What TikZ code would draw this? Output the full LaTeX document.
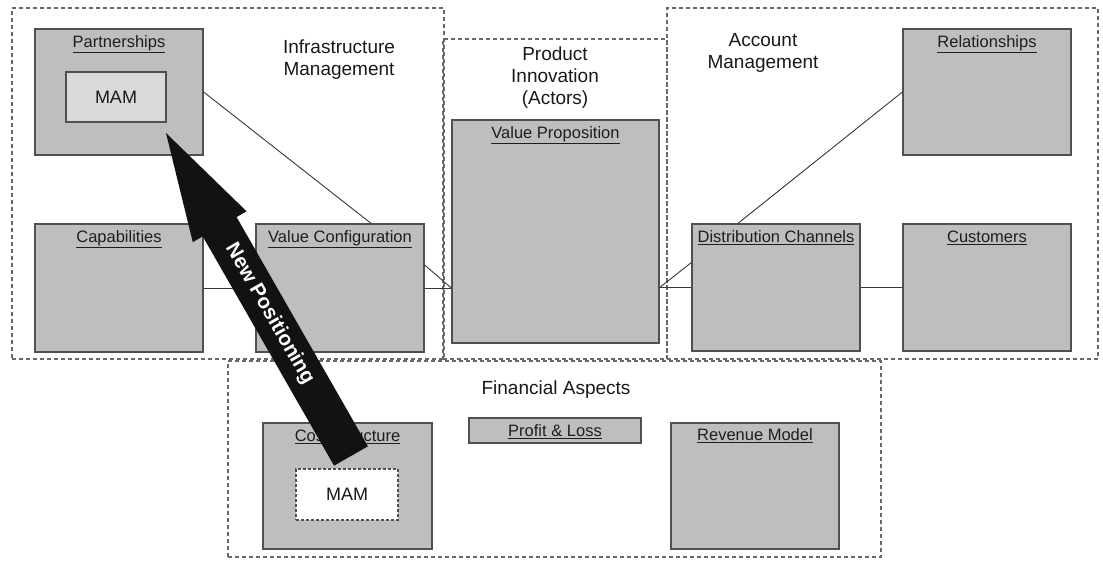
\documentclass[tikz,border=0pt]{standalone}
\usepackage{fontspec}
\setmainfont{Liberation Sans}
\usetikzlibrary{calc,fit}

\definecolor{boxfill}{RGB}{190,190,190}
\definecolor{mamfill}{RGB}{218,218,218}
\definecolor{boxline}{RGB}{80,80,80}
\definecolor{frameline}{RGB}{105,105,105}
\definecolor{linkline}{RGB}{55,55,55}
\definecolor{labeltext}{RGB}{30,30,30}
\definecolor{arrowfill}{RGB}{18,18,18}

\begin{document}
\begin{tikzpicture}[x=1pt,y=-1pt,
  frame/.style={draw=frameline, line width=1.1pt, dash pattern=on 4pt off 3pt,
                inner sep=0pt, rectangle},
  block/.style={draw=boxline, fill=boxfill, line width=1.3pt, inner sep=0pt, rectangle},
  innerblock/.style={draw=boxline, fill=mamfill, line width=1.3pt, inner sep=0pt, rectangle},
  dashblock/.style={draw=boxline, fill=white, line width=1.2pt, dash pattern=on 3pt off 2pt,
                    inner sep=0pt, rectangle},
  boxlabel/.style={anchor=base, inner sep=0pt, text=labeltext,
                   font=\fontsize{16.5}{18}\selectfont},
  heading/.style={align=center, inner sep=0pt, text=black!90,
                  font=\fontsize{19}{22}\selectfont},
  mamtext/.style={inner sep=0pt, text=black!90, font=\fontsize{18}{20}\selectfont},
  link/.style={draw=linkline, line width=0.9pt}]

\useasboundingbox (0,0) rectangle (1103,566);

% ---- dashed area frames ----
\node[frame, fit={(12,8) (444,359)}]    (infraF) {};
\node[frame, fit={(443,39) (667,359)}]  (prodF)  {};
\node[frame, fit={(667,8) (1098,359)}]  (acctF)  {};
\node[frame, fit={(228,361) (881,557)}] (finF)   {};

% ---- area headings ----
\node[heading] (infraH) at (339,60)  {Infrastructure\\Management};
\node[heading] (prodH)  at (555,78)  {Product\\Innovation\\(Actors)};
\node[heading] (acctH)  at (763,53)  {Account\\Management};
\node[heading] (finH)   at (556,390) {Financial Aspects};

% ---- building blocks ----
\node[block, fit={(35,29) (203,155)}]   (part) {};
\node[block, fit={(35,224) (203,352)}]  (cap)  {};
\node[block, fit={(256,224) (424,352)}] (vc)   {};
\node[block, fit={(452,120) (659,343)}] (vp)   {};
\node[block, fit={(692,224) (860,351)}] (dc)   {};
\node[block, fit={(903,224) (1071,351)}] (cust) {};
\node[block, fit={(903,29) (1071,155)}] (rel)  {};
\node[block, fit={(263,423) (432,549)}] (cost) {};
\node[block, fit={(469,418) (641,443)}] (pl)   {};
\node[block, fit={(671,423) (839,549)}] (rev)  {};

\node[boxlabel] (partL) at ([yshift=-19pt]part.north) {\underline{Partnerships}};
\node[boxlabel] (capL)  at ([yshift=-19pt]cap.north)  {\underline{Capabilities}};
\node[boxlabel] (vcL)   at ([yshift=-19pt]vc.north)   {\underline{Value Configuration}};
\node[boxlabel] (vpL)   at ([yshift=-19pt]vp.north)   {\underline{Value Proposition}};
\node[boxlabel] (dcL)   at ([yshift=-19pt]dc.north)   {\underline{Distribution Channels}};
\node[boxlabel] (custL) at ([yshift=-19pt]cust.north) {\underline{Customers}};
\node[boxlabel] (relL)  at ([yshift=-19pt]rel.north)  {\underline{Relationships}};
\node[boxlabel] (costL) at ([yshift=-19pt]cost.north) {\underline{Cost Structure}};
\node[boxlabel] (plL)   at ([yshift=-19pt]pl.north)   {\underline{Profit \& Loss}};
\node[boxlabel] (revL)  at ([yshift=-18pt]rev.north)  {\underline{Revenue Model}};

% MAM inside partnerships and (dashed) inside cost structure
\node[innerblock, fit={(66,72) (166,122)}] (mamA) {};
\node[mamtext] (mamAT) at (mamA.center) {MAM};
\node[dashblock, fit={(296,469) (398,520)}] (mamB) {};
\node[mamtext] (mamBT) at (mamB.center) {MAM};

% ---- connectors ----
\draw[link] (part.east) -- ([xshift=31pt]vc.north);
\draw[link] (cap.east) -- (vc.west);
\coordinate (vpLeft) at (vp.west |- vc.east);
\draw[link] (vc.east) -- (vpLeft);
\draw[link] ([yshift=23pt]vc.east) -- (vpLeft);
\coordinate (vpRight) at (vp.east |- dc.west);
\draw[link] (vpRight) -- (dc.west);
\draw[link] (vpRight) -- ([yshift=25pt]dc.west);
\draw[link] ([xshift=-38pt]dc.north) -- (rel.west);
\draw[link] (dc.east) -- (cust.west);

% ---- block arrow: new positioning of MAM ----
\coordinate (arrTail) at (351,456);
\coordinate (arrTip)  at (166,133);
\coordinate (hb) at ($(arrTip)!108pt!(arrTail)$);
\fill[arrowfill]
  (arrTip)
  -- ($(hb)!31pt!90:(arrTip)$)
  -- ($(hb)!19.5pt!90:(arrTip)$)
  -- ($(arrTail)!19.5pt!90:(arrTip)$)
  -- ($(arrTail)!19.5pt!-90:(arrTip)$)
  -- ($(hb)!19.5pt!-90:(arrTip)$)
  -- ($(hb)!31pt!-90:(arrTip)$)
  -- cycle;
\node[rotate=-60.2, inner sep=0pt, text=white, font=\bfseries\fontsize{20.5}{22}\selectfont]
  (npT) at ($(arrTail)!0.44!(arrTip)$) {New Positioning};

\end{tikzpicture}
\end{document}
